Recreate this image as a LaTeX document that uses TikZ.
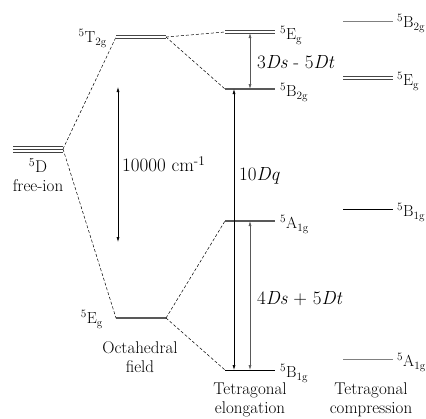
\documentclass[tikz,border=0pt]{standalone}
\usetikzlibrary{arrows.meta}
\newcommand{\tnr}{\rmfamily}
\newcommand{\st}[3]{\textsuperscript{#1}#2\textsubscript{#3}}
\begin{document}
\begin{tikzpicture}[x=1pt,y=-1pt,
  lvl/.style={line width=1.6pt,gray!70!black},
  dbl/.style={line width=1pt,gray!55!black},
  thinlvl/.style={line width=0.8pt,gray},
  blk/.style={line width=1pt,black},
  conn/.style={line width=0.5pt,dash pattern=on 3pt off 2pt},
  arr/.style={{Latex[length=5pt,width=3pt]}-{Latex[length=5pt,width=3pt]},line width=0.6pt},
  garr/.style={arr,gray!70!black},
  lab/.style={font=\tnr\fontsize{16}{16}\selectfont,inner sep=0pt},
  big/.style={font=\tnr\fontsize{19}{19}\selectfont,inner sep=0pt},
  captext/.style={font=\tnr\fontsize{17}{19}\selectfont,inner sep=0pt,align=center}]
\useasboundingbox (0,0) rectangle (426,418);
% free ion
\foreach \d in {-3,0,3} \draw[line width=1pt,gray!50!black] (13,149+\d) -- (63,149+\d);
\coordinate (fi) at (63,149);
% octahedral
\draw[dbl] (116,35.6) -- (166,35.6); \draw[dbl] (116,38.4) -- (166,38.4);
\coordinate (t2l) at (116,37); \coordinate (t2r) at (166,37);
\draw[lvl,line width=2.2pt] (116,318) -- (166,318);
\coordinate (egl) at (116,318); \coordinate (egr) at (166,318);
% elongation
\draw[dbl] (225,30.6) -- (275,30.6); \draw[dbl] (225,33.4) -- (275,33.4);
\coordinate (e1) at (225,32);
\draw[lvl] (225,89) -- (275,89); \coordinate (e2) at (225,89);
\draw[lvl] (225,221) -- (275,221); \coordinate (e3) at (225,221);
\draw[blk] (225,370) -- (275,370); \coordinate (e4) at (225,370);
% compression
\draw[thinlvl] (343,21) -- (393,21);
\draw[dbl] (343,76.6) -- (393,76.6); \draw[dbl] (343,79.4) -- (393,79.4);
\draw[line width=0.8pt] (343,209) -- (393,209);
\draw[thinlvl] (343,359) -- (393,359);
% connectors
\draw[conn] (fi) -- (t2l); \draw[conn] (fi) -- (egl);
\draw[conn] (t2r) -- (e1); \draw[conn] (t2r) -- (e2);
\draw[conn] (egr) -- (e3); \draw[conn] (egr) -- (e4);
% arrows
\draw[arr] (118,87) -- (118,242);
\draw[garr] (250,33) -- (250,89);
\draw[arr] (234,89) -- (234,370);
\draw[garr] (250,221) -- (250,370);
% labels
\node[big,anchor=west] at (122,164) {10000 cm\textsuperscript{-1}};
\node[big,anchor=west] at (257,62) {3\textit{Ds} - 5\textit{Dt}};
\node[big,anchor=west] at (239,176) {10\textit{Dq}};
\node[big,anchor=west] at (257,299) {4\textit{Ds} + 5\textit{Dt}};
\node[lab,anchor=east] at (107,38) {\st{5}{T}{2g}};
\node[lab,anchor=east] at (103,319) {\st{5}{E}{g}};
\node[lab,anchor=west] at (280,35) {\st{5}{E}{g}};
\node[lab,anchor=west] at (280,92) {\st{5}{B}{2g}};
\node[lab,anchor=west] at (280,224) {\st{5}{A}{1g}};
\node[lab,anchor=west] at (280,373) {\st{5}{B}{1g}};
\node[lab,anchor=west] at (397,23) {\st{5}{B}{2g}};
\node[lab,anchor=west] at (397,81) {\st{5}{E}{g}};
\node[lab,anchor=west] at (397,212) {\st{5}{B}{1g}};
\node[lab,anchor=west] at (397,362) {\st{5}{A}{1g}};
\node[captext] at (38,175) {\textsuperscript{5}D\\free-ion};
\node[captext] at (140,357) {Octahedral\\field};
\node[captext] at (250,400) {Tetragonal\\elongation};
\node[captext] at (371,400) {Tetragonal\\compression};
\end{tikzpicture}
\end{document}
